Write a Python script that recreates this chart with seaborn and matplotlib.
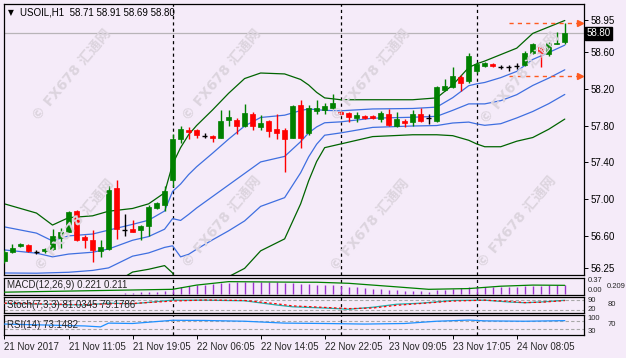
import numpy as np
import pandas as pd
import matplotlib
matplotlib.use("Agg")
import matplotlib.pyplot as plt
import seaborn as sns

# ---------------- data ----------------
opens = [56.33, 56.43, 56.49, 56.50, 56.43, 56.44, 56.46, 56.58, 56.65, 56.87,
         56.59, 56.56, 56.44, 56.46, 57.12, 56.67, 56.68, 56.67, 56.71, 56.90,
         56.94, 57.21, 57.65, 57.75, 57.75, 57.69, 57.69, 57.67, 57.86, 57.86,
         57.79, 57.93, 57.78, 57.85, 57.76, 57.75, 57.67, 58.02, 57.72, 57.96,
         57.97, 57.99, 57.95, 57.94, 57.88, 57.90, 57.90, 57.87, 57.92, 57.79,
         57.85, 57.84, 57.93, 57.88, 57.85, 58.19, 58.22, 58.33, 58.28, 58.39,
         58.45, 58.47, 58.44, 58.44, 58.45, 58.46, 58.59, 58.65, 58.58, 58.69,
         58.71]
highs = [56.45, 56.51, 56.52, 56.51, 56.45, 56.47, 56.68, 56.69, 56.87, 56.88,
         56.61, 56.67, 56.56, 57.14, 57.21, 56.84, 56.77, 56.72, 56.94, 56.97,
         57.14, 57.71, 57.79, 57.78, 57.76, 57.72, 57.70, 57.97, 57.97, 57.88,
         58.03, 57.95, 57.91, 57.86, 57.92, 57.77, 58.02, 58.08, 58.02, 58.08,
         58.05, 58.14, 57.96, 57.95, 57.95, 57.91, 57.91, 57.96, 57.98, 57.95,
         57.87, 57.97, 57.99, 57.92, 58.23, 58.30, 58.44, 58.35, 58.59, 58.49,
         58.49, 58.48, 58.46, 58.46, 58.48, 58.61, 58.70, 58.66, 58.71, 58.81,
         58.91]
lows = [56.31, 56.42, 56.48, 56.43, 56.41, 56.42, 56.45, 56.47, 56.64, 56.55,
        56.47, 56.32, 56.37, 56.45, 56.57, 56.60, 56.64, 56.56, 56.60, 56.89,
        56.87, 57.13, 57.61, 57.65, 57.66, 57.66, 57.62, 57.66, 57.80, 57.71,
        57.78, 57.75, 57.75, 57.68, 57.65, 57.30, 57.66, 57.56, 57.70, 57.92,
        57.93, 57.98, 57.91, 57.84, 57.84, 57.87, 57.87, 57.84, 57.80, 57.78,
        57.78, 57.80, 57.84, 57.82, 57.84, 58.17, 58.21, 58.17, 58.26, 58.37,
        58.43, 58.44, 58.41, 58.39, 58.41, 58.45, 58.58, 58.43, 58.55, 58.68,
        58.69]
closes = [56.43, 56.47, 56.51, 56.44, 56.43, 56.46, 56.60, 56.65, 56.86, 56.56,
          56.56, 56.45, 56.48, 57.10, 56.68, 56.67, 56.65, 56.71, 56.92, 56.96,
          57.09, 57.65, 57.76, 57.73, 57.70, 57.69, 57.67, 57.85, 57.89, 57.79,
          57.94, 57.79, 57.83, 57.74, 57.72, 57.65, 58.01, 57.67, 57.99, 57.99,
          58.01, 58.05, 57.92, 57.89, 57.91, 57.88, 57.88, 57.94, 57.81, 57.87,
          57.83, 57.92, 57.85, 57.88, 58.22, 58.23, 58.34, 58.26, 58.56, 58.47,
          58.48, 58.45, 58.44, 58.44, 58.45, 58.59, 58.68, 58.59, 58.70, 58.70,
          58.80]

# Bollinger band (dev 2, green) read at vertices; blue = dev 1 + middle
band_idx = [0, 4, 6, 8, 11, 13, 16, 18, 20, 21, 22, 23, 24, 26, 28, 30, 32, 35,
            37, 38, 39, 40, 42, 46, 51, 54, 56, 58, 59, 60, 62, 64, 66, 68, 70]
band_upper = [56.95, 56.85, 56.72, 56.80, 56.82, 56.87, 56.90, 56.95, 57.07, 57.38,
              57.56, 57.70, 57.80, 57.97, 58.15, 58.31, 58.37, 58.36, 58.30, 58.24,
              58.16, 58.10, 58.08, 58.08, 58.08, 58.10, 58.24, 58.43, 58.47, 58.50,
              58.57, 58.64, 58.80, 58.87, 58.94]
band_lower = [55.95, 55.98, 56.03, 56.01, 56.03, 56.05, 56.21, 56.24, 56.28, 56.20,
              55.98, 55.97, 56.01, 56.09, 56.16, 56.25, 56.44, 56.57, 56.95, 57.20,
              57.41, 57.56, 57.60, 57.68, 57.70, 57.70, 57.69, 57.64, 57.60, 57.57,
              57.57, 57.63, 57.67, 57.76, 57.87]

macd_hist = [0.00, 0.00, 0.00, 0.00, 0.00, 0.00, 0.00, 0.00, 0.00, 0.00,
             0.00, 0.00, 0.00, 0.00, 0.01, 0.02, 0.03, 0.04, 0.05, 0.06,
             0.08, 0.12, 0.16, 0.19, 0.21, 0.23, 0.24, 0.26, 0.27, 0.28,
             0.29, 0.29, 0.29, 0.28, 0.28, 0.26, 0.26, 0.25, 0.24, 0.23,
             0.22, 0.21, 0.19, 0.18, 0.16, 0.15, 0.13, 0.12, 0.10, 0.09,
             0.08, 0.08, 0.07, 0.06, 0.09, 0.11, 0.13, 0.14, 0.17, 0.18,
             0.18, 0.18, 0.18, 0.18, 0.18, 0.19, 0.20, 0.20, 0.21, 0.21,
             0.221]
sig_idx = [0, 13, 21, 24, 28, 37, 39, 43, 49, 53, 58, 62, 66, 70]
macd_signal = [0.046, 0.089, 0.115, 0.217, 0.30, 0.286, 0.286, 0.26, 0.174, 0.115,
               0.133, 0.19, 0.217, 0.211]

stoch_idx = [0, 5, 10, 13, 16, 21, 25, 30, 34, 36, 40, 43, 46, 49, 52, 56, 60, 63, 65, 67, 70]
stoch_main = [60, 55, 50, 62, 58, 82, 82, 78, 50, 38, 30, 22, 35, 55, 62, 80, 82, 70, 65, 70, 81.03]
stoch_signal = [62, 57, 52, 58, 60, 76, 83, 80, 58, 44, 34, 26, 30, 48, 60, 76, 82, 74, 66, 68, 79.18]

rsi_idx = [0, 5, 10, 12, 13, 16, 21, 25, 30, 35, 40, 45, 50, 54, 58, 60, 65, 70]
rsi_vals = [55, 50, 45, 40, 60, 58, 75, 74, 70, 60, 58, 55, 58, 70, 76, 72, 70, 73.15]

price_ticks = [58.95, 58.60, 58.20, 57.80, 57.40, 57.00, 56.60, 56.25]
time_tick_idx = [0, 8, 16, 24, 32, 40, 48, 56, 64]
time_labels = ["21 Nov 2017", "21 Nov 11:05", "21 Nov 19:05", "22 Nov 06:05",
               "22 Nov 14:05", "22 Nov 22:05", "23 Nov 09:05", "23 Nov 17:05",
               "24 Nov 08:05"]
separator_idx = [21, 42, 59]
arrow_levels = [58.91, 58.34]
last_price = 58.80
macd_labels = ["0.37", "0.209", "0.00"]
stoch_labels = ["90", "80", "20"]
rsi_labels = ["100", "70", "30"]

# ---------------- style ----------------
sns.set_theme(style="white")
plt.rcParams['font.family'] = ['Liberation Sans', 'Noto Sans CJK SC', 'DejaVu Sans']
BG = "#F5EBF9"
W, H = 626, 358
fig = plt.figure(figsize=(W / 100, H / 100), dpi=100, facecolor=BG)

def axrect(top, bottom, left=4, right=584):
    return [left / W, 1 - bottom / H, (right - left) / W, (bottom - top) / H]

ax = fig.add_axes(axrect(4, 275))
ax_macd = fig.add_axes(axrect(277.5, 294.5))
ax_st = fig.add_axes(axrect(297, 313))
ax_rsi = fig.add_axes(axrect(315, 335))

XMIN, XMAX = -0.06, 72.4
for a in (ax, ax_macd, ax_st, ax_rsi):
    a.set_facecolor(BG)
    a.set_xlim(XMIN, XMAX)
    for s in a.spines.values():
        s.set_color("black")
        s.set_linewidth(0.9)
    a.yaxis.tick_right()
    a.tick_params(axis='y', which='both', right=True, left=False, length=3,
                  width=0.7, color='black', labelsize=7, pad=2, labelcolor='black')
    a.tick_params(axis='x', bottom=False, labelbottom=False)
    for xi in separator_idx:
        a.axvline(xi, color='black', lw=0.9, ls=(0, (2.5, 2.5)), zorder=1)

# ---------------- main chart ----------------
ax.set_ylim(56.178, 59.119)
idx = np.arange(len(opens))
df = pd.DataFrame({"i": idx, "o": opens, "h": highs, "l": lows, "c": closes})

bands = pd.DataFrame({"i": band_idx, "up": band_upper, "lo": band_lower})
bands["mid"] = (bands["up"] + bands["lo"]) / 2
bands["bup"] = (3 * bands["up"] + bands["lo"]) / 4
bands["blo"] = (bands["up"] + 3 * bands["lo"]) / 4
for col, colr in [("up", "#006400"), ("lo", "#006400"), ("mid", "#3F6FE0"),
                  ("bup", "#3F6FE0"), ("blo", "#3F6FE0")]:
    sns.lineplot(data=bands, x="i", y=col, ax=ax, color=colr, lw=0.9, zorder=2,
                 legend=False)

ax.axhline(last_price, color="#B8B4B8", lw=0.9, zorder=1.5)

colors = np.where(df["c"] > df["o"], "#008000",
                  np.where(df["c"] < df["o"], "#FF0000", "black"))
ax.vlines(df["i"], df["l"], df["h"], colors=colors, lw=1.0, zorder=3)
body_lo = np.minimum(df["o"], df["c"])
body_h = np.maximum(np.abs(df["c"] - df["o"]), 0.004)
is_doji = df["c"] == df["o"]
ax.bar(df["i"][~is_doji], body_h[~is_doji], bottom=body_lo[~is_doji], width=0.62,
       color=colors[~is_doji], edgecolor=colors[~is_doji], lw=0.5, zorder=4)
ax.hlines(df["o"][is_doji], df["i"][is_doji] - 0.3, df["i"][is_doji] + 0.3,
          colors="black", lw=1.0, zorder=4)

for lv in arrow_levels:
    ax.plot([63.0, 71.6], [lv, lv], color="#FF5A1F", lw=1.0, ls=(0, (3, 3)), zorder=5)
    ax.plot([71.85], [lv], marker=">", color="#FF5A1F", ms=5, zorder=5)

ax.set_yticks(price_ticks)
ax.set_yticklabels([f"{v:.2f}" for v in price_ticks])
ax.set_xticks([])
ax.set_xlabel("")
ax.set_ylabel("")
ax.text(1.004, last_price, f"{last_price:.2f}", transform=ax.get_yaxis_transform(),
        ha="left", va="center", fontsize=7, color="white", zorder=10,
        bbox=dict(boxstyle="square,pad=0.15", fc="black", ec="black"))

ax.text(0.007, 0.968, "\u25BC", transform=ax.transAxes, fontsize=5.5, va="center",
        ha="left", color="black", family=["DejaVu Sans"])
ax.text(0.028, 0.968, "USOIL,H1  58.71 58.91 58.69 58.80", transform=ax.transAxes,
        fontsize=7, va="center", ha="left", color="black")

# ---------------- MACD ----------------
ax_macd.set_ylim(-0.01, 0.40)
ax_macd.vlines(idx, 0, macd_hist, colors="#9932CC", lw=1.0, zorder=2)
sig = pd.DataFrame({"i": sig_idx, "v": macd_signal})
sns.lineplot(data=sig, x="i", y="v", ax=ax_macd, color="#008000", lw=0.9, zorder=3)
ax_macd.set_yticks([])
ax_macd.set_xlabel(""); ax_macd.set_ylabel("")
ax_macd.text(0.006, 0.55, "MACD(12,26,9) 0.221 0.211", transform=ax_macd.transAxes,
             fontsize=7, va="center", ha="left")

def side_labels(a, labels):
    # top and bottom labels flush left, middle label shifted right so none overlap
    a.text(1.006, 1.0, labels[0], transform=a.transAxes, fontsize=5.5, va="top", ha="left")
    a.text(1.006, 0.0, labels[2], transform=a.transAxes, fontsize=5.5, va="bottom", ha="left")
    a.text(1.040, 0.5, labels[1], transform=a.transAxes, fontsize=5.5, va="center", ha="left")

side_labels(ax_macd, macd_labels)

# ---------------- Stochastic ----------------
ax_st.set_ylim(-3, 103)
for lvl in (80, 20):
    ax_st.axhline(lvl, color="#A8A8A8", lw=0.8, ls=(0, (3, 2)), zorder=1)
st1 = pd.DataFrame({"i": stoch_idx, "m": stoch_main, "s": stoch_signal})
sns.lineplot(data=st1, x="i", y="m", ax=ax_st, color="#20B2AA", lw=0.9, zorder=3)
sns.lineplot(data=st1, x="i", y="s", ax=ax_st, color="#FF0000", lw=0.9, zorder=3)
ax_st.lines[-1].set_linestyle((0, (2, 2)))
ax_st.set_yticks([])
ax_st.set_xlabel(""); ax_st.set_ylabel("")
ax_st.text(0.006, 0.5, "Stoch(7,3,3) 81.0345 79.1786", transform=ax_st.transAxes,
           fontsize=7, va="center", ha="left")
side_labels(ax_st, stoch_labels)

# ---------------- RSI ----------------
ax_rsi.set_ylim(-3, 103)
for lvl in (70, 30):
    ax_rsi.axhline(lvl, color="#A8A8A8", lw=0.8, ls=(0, (3, 2)), zorder=1)
rs = pd.DataFrame({"i": rsi_idx, "v": rsi_vals})
sns.lineplot(data=rs, x="i", y="v", ax=ax_rsi, color="#1E90FF", lw=0.9, zorder=3)
ax_rsi.set_yticks([])
ax_rsi.set_ylabel("")
ax_rsi.text(0.006, 0.5, "RSI(14) 73.1482", transform=ax_rsi.transAxes,
            fontsize=7, va="center", ha="left")
side_labels(ax_rsi, rsi_labels)
ax_rsi.set_xticks(time_tick_idx)
ax_rsi.set_xticklabels(time_labels, ha="left")
ax_rsi.tick_params(axis='x', bottom=True, labelbottom=True, length=3, width=0.7,
                   color='black', labelsize=7, pad=2, direction='out')
ax_rsi.set_xlabel("")

# ---------------- watermarks ----------------
for cx, cy in [(72, 75), (222, 75), (371, 75), (520, 78),
               (75, 225), (222, 222), (370, 225), (517, 222)]:
    fig.text(cx / W, 1 - cy / H, "\u00A9 FX678 汇通网", fontsize=10, rotation=50,
             ha="center", va="center", color="#DCD4DE", fontweight="bold",
             family=["DejaVu Sans", "Noto Sans CJK SC"], zorder=0)

fig.savefig("out.png", dpi=100, facecolor=BG)
